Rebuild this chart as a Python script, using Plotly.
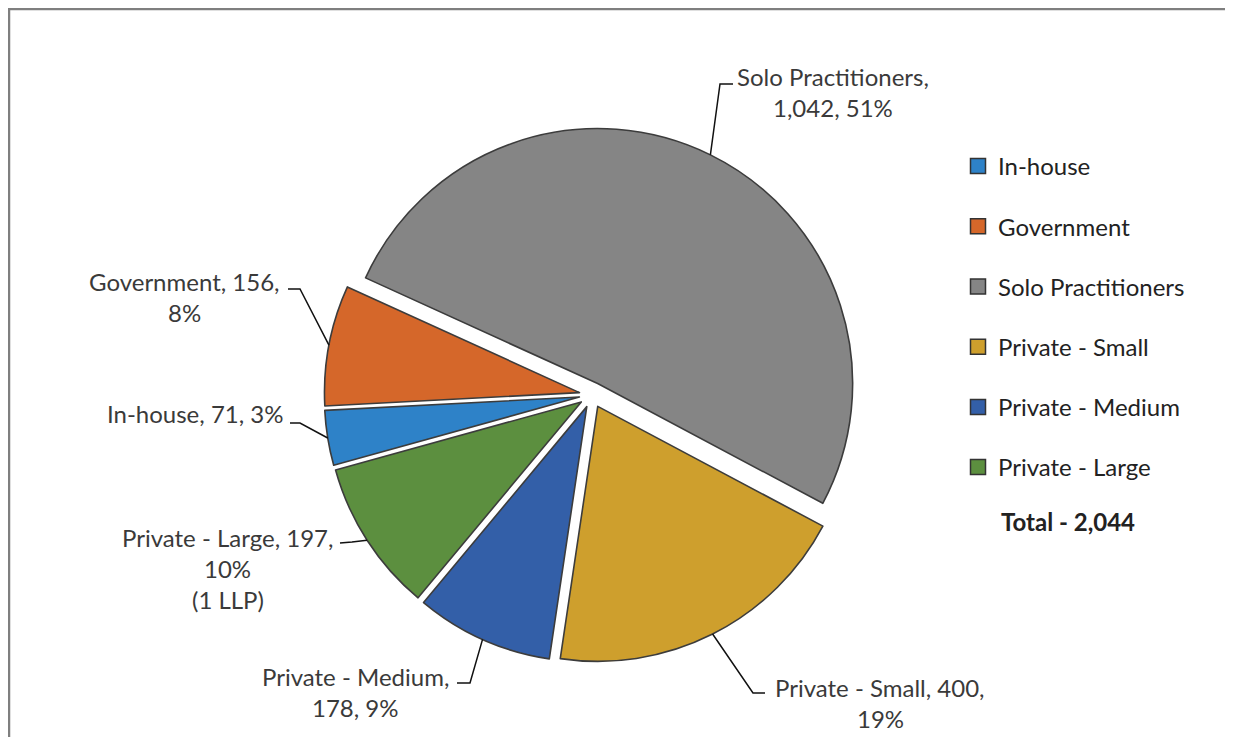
import math
import plotly.graph_objects as go

# ---------------- data ----------------
categories = ["In-house", "Government", "Solo Practitioners",
              "Private - Small", "Private - Medium", "Private - Large"]
values = [71, 156, 1042, 400, 178, 197]
value_labels = ["71", "156", "1,042", "400", "178", "197"]
pct_labels = ["3%", "8%", "51%", "19%", "9%", "10%"]
total_label = "Total - 2,044"
colors = ["#2E82C8", "#D5672A", "#858585", "#CE9F2D", "#335FA8", "#5C8F3F"]

# label text blocks (lines)
label_lines = [
    ["In-house, 71, 3%"],
    ["Government, 156,", "8%"],
    ["Solo Practitioners,", "1,042, 51%"],
    ["Private - Small, 400,", "19%"],
    ["Private - Medium,", "178, 9%"],
    ["Private - Large, 197,", "10%", "(1 LLP)"],
]

# ---------------- layout constants (screen pixels) ----------------
OFF = 8                      # default page margin around the plot div
W, H = 1233 - 2 * OFF, 745 - 2 * OFF
CX, CY, R = 592, 395, 255
PULL = 0.05
ROT = 254.5
FONT = "Lato, 'Open Sans', sans-serif"
FS = 24
TXT = "#3A3A3A"
LINE_SP = 31

# label block centres and leader elbows (screen pixels)
label_pos = [(195, 413), (184, 297), (833, 92), (880, 703), (355, 692), (228, 568)]
leader_elbow = [((300, 423), (290, 423)), ((300, 289), (288, 289)), ((720, 84), (733, 84)),
                ((753, 693), (765, 693)), ((470, 683), (457, 683)), ((352, 542), (340, 543))]


def px2paper(x, y):
    return (x - OFF) / W, 1 - (y - OFF) / H


fig = go.Figure()

half = R * (1 + PULL)
dx0, dy1 = px2paper(CX - half, CY - half)
dx1, dy0 = px2paper(CX + half, CY + half)
fig.add_trace(go.Pie(
    labels=categories, values=values, sort=False, direction="clockwise",
    rotation=ROT, pull=[PULL] * len(values), textinfo="none",
    marker=dict(colors=colors, line=dict(color="#3C3C3C", width=1.6)),
    domain=dict(x=[dx0, dx1], y=[dy0, dy1]),
    showlegend=False, hoverinfo="label+value+percent",
))

# legend entries
for c, col in zip(categories, colors):
    fig.add_trace(go.Scatter(
        x=[None], y=[None], mode="markers", name=c, legendgroup=c,
        marker=dict(symbol="square", size=15, color=col,
                    line=dict(color="#333333", width=1.5)),
        showlegend=True,
    ))

# slice-anchored leader lines and labels
tot = sum(values)
cum = 0
shapes = []
annotations = []
for i, v in enumerate(values):
    mid = ROT + (cum + v / 2) / tot * 360
    cum += v
    a = math.radians(mid)
    rr = R * (1 + PULL)
    ax_, ay_ = CX + rr * math.sin(a), CY - rr * math.cos(a)
    (ex, ey), (hx, hy) = leader_elbow[i]
    p0 = px2paper(ax_, ay_)
    p1 = px2paper(ex, ey)
    p2 = px2paper(hx, hy)
    shapes.append(dict(type="path", xref="paper", yref="paper",
                       path=f"M{p0[0]},{p0[1]} L{p1[0]},{p1[1]} L{p2[0]},{p2[1]}",
                       line=dict(color="#111111", width=1.5)))
    lx, ly = label_pos[i]
    lines = label_lines[i]
    n = len(lines)
    for j, t in enumerate(lines):
        yy = ly + (j - (n - 1) / 2) * LINE_SP
        px, py = px2paper(lx, yy)
        annotations.append(dict(x=px, y=py, xref="paper", yref="paper", text=t,
                                showarrow=False, xanchor="center", yanchor="middle",
                                font=dict(family=FONT, size=FS, color=TXT)))

# total note
tx, ty = px2paper(1068, 521)
annotations.append(dict(x=tx, y=ty, xref="paper", yref="paper",
                        text=f"<b>{total_label}</b>", showarrow=False,
                        xanchor="center", yanchor="middle",
                        font=dict(family=FONT, size=FS, color="#222222")))

# chart border (left and top edges visible in the crop)
bl = px2paper(9, 760)
tl = px2paper(9, 9)
tr = px2paper(1260, 9)
shapes.append(dict(type="path", xref="paper", yref="paper",
                   path=f"M{bl[0]},{bl[1]} L{tl[0]},{tl[1]} L{tr[0]},{tr[1]}",
                   line=dict(color="#7F7F7F", width=2.5)))

lgx, lgy = px2paper(958, 144)
fig.update_layout(
    width=W, height=H, margin=dict(l=0, r=0, t=0, b=0),
    paper_bgcolor="white", plot_bgcolor="white",
    xaxis=dict(visible=False), yaxis=dict(visible=False),
    legend=dict(x=lgx, y=lgy, xanchor="left", yanchor="top",
                font=dict(family=FONT, size=FS, color="#222222"),
                tracegroupgap=26, itemsizing="trace", bgcolor="rgba(0,0,0,0)"),
    shapes=shapes, annotations=annotations,
)

fig.write_html("out.html")
